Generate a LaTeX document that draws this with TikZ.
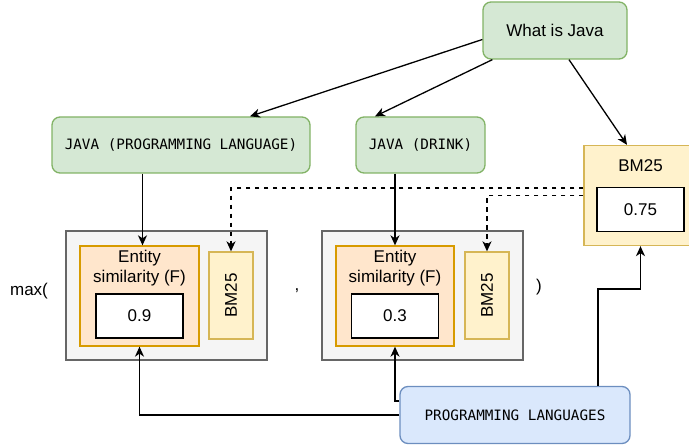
\documentclass[tikz,border=0pt]{standalone}
\usepackage{fontspec}
\setmainfont{Liberation Sans}
\setmonofont{DejaVu Sans Mono}
\usetikzlibrary{arrows.meta, calc, positioning}

\definecolor{greenfill}{HTML}{D5E8D4}
\definecolor{greenline}{HTML}{82B366}
\definecolor{bluefill}{HTML}{DAE8FC}
\definecolor{blueline}{HTML}{6C8EBF}
\definecolor{orangefill}{HTML}{FFE6CC}
\definecolor{orangeline}{HTML}{D79B00}
\definecolor{yellowfill}{HTML}{FFF2CC}
\definecolor{yellowline}{HTML}{D6B656}
\definecolor{greyfill}{HTML}{F5F5F5}
\definecolor{greyline}{HTML}{666666}

\newcommand{\labeltext}{\fontsize{17}{20.5}\selectfont}
\newcommand{\monotext}{\ttfamily\fontsize{14.3}{17}\selectfont}

\tikzset{
    entitybox/.style={draw=greenline, fill=greenfill, rounded corners=8pt, line width=1.3pt, minimum height=56pt, inner sep=0pt, font=\monotext},
    querybox/.style={entitybox, font=\labeltext},
    topicbox/.style={draw=blueline, fill=bluefill, rounded corners=8pt, line width=1.3pt, minimum height=57pt, inner sep=0pt, font=\monotext},
    scorebox/.style={draw=greyline, fill=greyfill, line width=1.3pt, minimum width=201pt, minimum height=129pt, inner sep=0pt},
    simbox/.style={draw=orangeline, fill=orangefill, line width=1.3pt, minimum width=119pt, minimum height=100pt, inner sep=0pt},
    bmbox/.style={draw=yellowline, fill=yellowfill, line width=1.3pt, inner sep=0pt, font=\labeltext},
    valuebox/.style={draw=black, fill=white, line width=1.4pt, minimum width=87pt, minimum height=44pt, inner sep=0pt, font=\labeltext},
    linkarrow/.style={line width=1.3pt, -{Stealth[length=10pt, width=9pt, inset=3pt]}},
    dashlink/.style={linkarrow, dash pattern=on 4.5pt off 4.5pt}
}

\begin{document}
\begin{tikzpicture}[x=1pt, y=-1pt]
    \useasboundingbox (0,0) rectangle (689,446);

    \node[querybox, minimum width=144pt, minimum height=57pt] (query) at (555, 30.5) {What is Java};
    \node[entitybox, minimum width=258pt] (entPL) at (181, 145) {JAVA (PROGRAMMING LANGUAGE)};
    \node[entitybox, minimum width=129pt] (entDrink) at (420.5, 145) {JAVA (DRINK)};

    % bm25 score of the query
    \node[bmbox, minimum width=113pt, minimum height=100pt] (bmTop) at (640.5, 195.5) {};
    \node[font=\labeltext] (bmTopLabel) at (640.5, 166) {BM25};
    \node[valuebox] (bmTopVal) at ($(bmTop) + (0, 14)$) {0.75};

    % left score
    \node[scorebox] (gL) at (166.5, 295.5) {};
    \node[simbox] (oL) at ($(gL) + (-27, 0.5)$) {};
    \node[font=\labeltext, align=center] (oLLabel) at ($(oL) + (0, -28)$) {Entity\\similarity (F)};
    \node[valuebox] (wL) at ($(oL) + (0, 20)$) {0.9};
    \node[bmbox, minimum width=44pt, minimum height=87pt] (bL) at ($(gL) + (64.5, 0)$) {\rotatebox{90}{BM25}};

    % right score
    \node[scorebox] (gR) at (422.5, 295.5) {};
    \node[simbox, minimum width=118pt] (oR) at ($(gR) + (-27.5, 0.5)$) {};
    \node[font=\labeltext, align=center] (oRLabel) at ($(oR) + (0, -28)$) {Entity\\similarity (F)};
    \node[valuebox] (wR) at ($(oR) + (0, 20)$) {0.3};
    \node[bmbox, minimum width=44pt, minimum height=87pt] (bR) at ($(gR) + (64.5, 0)$) {\rotatebox{90}{BM25}};

    \node[font=\labeltext] (maxOpen) at (29, 291) {max(};
    \node[font=\labeltext] (comma) at (297, 291) {,};
    \node[font=\labeltext] (maxClose) at (539, 287) {)};

    \node[topicbox, minimum width=230pt] (lang) at (515, 415) {PROGRAMMING LANGUAGES};

    \draw[linkarrow] ($(query.west) + (0, 9)$) -- ($(entPL.north) + (69, 0)$);
    \draw[linkarrow] ($(query.south west) + (10, 0)$) -- ($(entDrink.north) + (-45.5, 0)$);
    \draw[linkarrow] ($(query.south) + (14, 0)$) -- ($(bmTop.north) + (-13.5, 0)$);

    \draw[linkarrow] ($(entPL.south -| oL.north) + (3, 0)$) -- ($(oL.north) + (3, 0)$);
    \draw[linkarrow] (entDrink.south -| oR.north) -- (oR.north);

    \draw[dashlink] ($(bmTop.west) + (0, -7.5)$) -| (bL.north);
    \draw[dashlink] (bmTop.west) -| (bR.north);

    \draw[linkarrow] (lang.west) -| (oL.south);
    \draw[linkarrow] ($(lang.west) + (0, -14)$) -| (oR.south);
    \draw[linkarrow] ($(lang.north) + (83, 0)$) |- ($(bmTop.south) + (0, 43)$) -- (bmTop.south);
\end{tikzpicture}
\end{document}
